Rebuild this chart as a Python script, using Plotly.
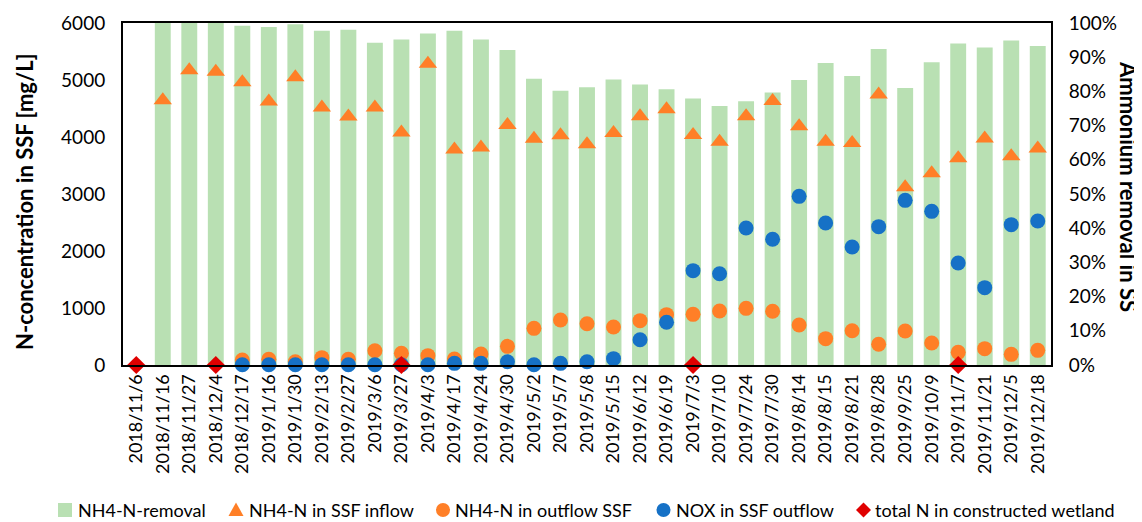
import plotly.graph_objects as go

dates = ["2018/11/6", "2018/11/16", "2018/11/27", "2018/12/4", "2018/12/17", "2019/1/16", "2019/1/30",
         "2019/2/13", "2019/2/27", "2019/3/6", "2019/3/27", "2019/4/3", "2019/4/17", "2019/4/24", "2019/4/30",
         "2019/5/2", "2019/5/7", "2019/5/8", "2019/5/15", "2019/6/12", "2019/6/19", "2019/7/3", "2019/7/10",
         "2019/7/24", "2019/7/30", "2019/8/14", "2019/8/15", "2019/8/21", "2019/8/28", "2019/9/25", "2019/10/9",
         "2019/11/7", "2019/11/21", "2019/12/5", "2019/12/18"]

removal = [None, 1.0, 1.0, 1.0, 0.992, 0.988, 0.996, 0.977, 0.980, 0.942, 0.952, 0.969, 0.977, 0.952, 0.921,
           0.837, 0.802, 0.812, 0.835, 0.820, 0.806, 0.779, 0.757, 0.771, 0.797, 0.833, 0.883, 0.845, 0.924,
           0.810, 0.885, 0.940, 0.928, 0.949, 0.933]

inflow = [None, 4644, 5170, 5146, 4962, 4623, 5047, 4518, 4360, 4518, 4080, 5284, 3781, 3816, 4211,
          3968, 4029, 3871, 4070, 4365, 4485, 4035, 3918, 4363, 4632, 4187, 3918, 3895, 4746,
          3117, 3363, 3629, 3974, 3664, 3798]

outflow = [None, None, None, None, 88, 99, 58, 129, 99, 251, 205, 164, 105, 193, 327,
           643, 789, 725, 667, 778, 883, 889, 947, 994, 942, 702, 462, 602, 363,
           596, 386, 222, 287, 187, 257]

nox = [None, None, None, None, 5, 5, 5, 5, 5, 5, 5, 5, 29, 29, 58,
       5, 29, 58, 111, 444, 749, 1655, 1602, 2404, 2205, 2959, 2491, 2070, 2427,
       2889, 2696, 1789, 1357, 2462, 2526]

total_n = [0, None, None, 0, None, None, None, None, None, None, 0, None, None, None, None,
           None, None, None, None, None, None, 0, None, None, None, None, None, None, None,
           None, None, 0, None, None, None]

series_names = ["NH4-N-removal", "NH4-N in SSF inflow", "NH4-N in outflow SSF",
                "NOX in SSF outflow", "total N in constructed wetland"]

FONT = "Lato"
GREEN = "#B9E0B3"
ORANGE = "#FF7F27"
BLUE = "#1671C6"
RED = "#E00000"

# page geometry (browser pixels); the page body adds an 8px offset
OFF = 8
PAGE_W, PAGE_H = 1142, 522
W, H = PAGE_W - OFF, PAGE_H - OFF
PLOT_L, PLOT_R, PLOT_T, PLOT_B = 123, 1051, 23, 365   # plot box in page pixels
L, T = PLOT_L - OFF, PLOT_T - OFF
R, B = PAGE_W - PLOT_R, PAGE_H - PLOT_B
PW, PH = PLOT_R - PLOT_L, PLOT_B - PLOT_T


def px_x(px):
    return (px - PLOT_L) / PW


def px_y(py):
    return (PLOT_B - py) / PH


fig = go.Figure()
fig.add_trace(go.Bar(x=dates, y=removal, name=series_names[0], marker_color=GREEN,
                     marker_line_width=0, yaxis="y"))
fig.add_trace(go.Scatter(x=dates, y=inflow, name=series_names[1], mode="markers",
                         marker=dict(symbol="triangle-up", size=16, color=ORANGE),
                         yaxis="y2", cliponaxis=False))
fig.add_trace(go.Scatter(x=dates, y=outflow, name=series_names[2], mode="markers",
                         marker=dict(symbol="circle", size=15, color=ORANGE),
                         yaxis="y2", cliponaxis=False))
fig.add_trace(go.Scatter(x=dates, y=nox, name=series_names[3], mode="markers",
                         marker=dict(symbol="circle", size=15, color=BLUE),
                         yaxis="y2", cliponaxis=False))
fig.add_trace(go.Scatter(x=dates, y=total_n, name=series_names[4], mode="markers",
                         marker=dict(symbol="diamond", size=14, color=RED),
                         yaxis="y2", cliponaxis=False))

# custom legend (symbols as pixel-sized shapes, labels as annotations)
leg_y = px_y(510)
sym_x = [65, 236, 443, 663.5, 863.5]
txt_x = [76, 247, 453, 674, 873]
sym_specs = [
    dict(type="rect", x0=-7, x1=7, y0=-7, y1=7, fillcolor=GREEN),
    dict(type="path", path="M -7.5,-6 L 7.5,-6 L 0,7.5 Z", fillcolor=ORANGE),
    dict(type="circle", x0=-7, x1=7, y0=-7, y1=7, fillcolor=ORANGE),
    dict(type="circle", x0=-7, x1=7, y0=-7, y1=7, fillcolor=BLUE),
    dict(type="path", path="M 0,7.5 L 7.5,0 L 0,-7.5 L -7.5,0 Z", fillcolor=RED),
]
shapes = []
for sx, spec in zip(sym_x, sym_specs):
    s = dict(xref="paper", yref="paper", xsizemode="pixel", ysizemode="pixel",
             xanchor=px_x(sx), yanchor=leg_y, line=dict(width=0), layer="above")
    s.update(spec)
    shapes.append(s)

annotations = [
    dict(text=name, xref="paper", yref="paper", x=px_x(tx), y=leg_y, xanchor="left",
         yanchor="middle", showarrow=False, font=dict(size=18, family=FONT))
    for name, tx in zip(series_names, txt_x)
]
annotations += [
    dict(text="<b>N-concentration in SSF [mg/L]</b>", xref="paper", yref="paper",
         x=px_x(24), y=px_y(202), xanchor="center", yanchor="middle",
         textangle=-90, showarrow=False, font=dict(size=22, family=FONT)),
    dict(text="<b>Ammonium removal in SS</b>", xref="paper", yref="paper",
         x=px_x(1129), y=px_y(186), xanchor="center", yanchor="middle",
         textangle=90, showarrow=False, font=dict(size=22, family=FONT)),
]

fig.update_layout(
    width=W, height=H,
    margin=dict(l=L, r=R, t=T, b=B, autoexpand=False),
    paper_bgcolor="white", plot_bgcolor="white",
    font=dict(family=FONT, size=18, color="black"),
    bargap=0.4,
    showlegend=False,
    xaxis=dict(type="category", range=[-0.5, len(dates) - 0.5], tickangle=-90, showline=True,
               linecolor="black", linewidth=2, mirror=True, showgrid=False, ticks="",
               tickfont=dict(size=18), automargin=False),
    yaxis=dict(side="right", range=[0, 1], dtick=0.1, tickformat=".0%", showgrid=False,
               showline=True, linecolor="black", linewidth=2, ticks="", zeroline=False,
               tickfont=dict(size=19), ticklabelstandoff=12, automargin=False),
    yaxis2=dict(side="left", overlaying="y", range=[0, 6000], dtick=1000, showgrid=False,
                showline=True, linecolor="black", linewidth=2, ticks="", zeroline=False,
                tickfont=dict(size=19), ticklabelstandoff=12, automargin=False),
    shapes=shapes,
    annotations=annotations,
)

fig.write_html("out.html")
